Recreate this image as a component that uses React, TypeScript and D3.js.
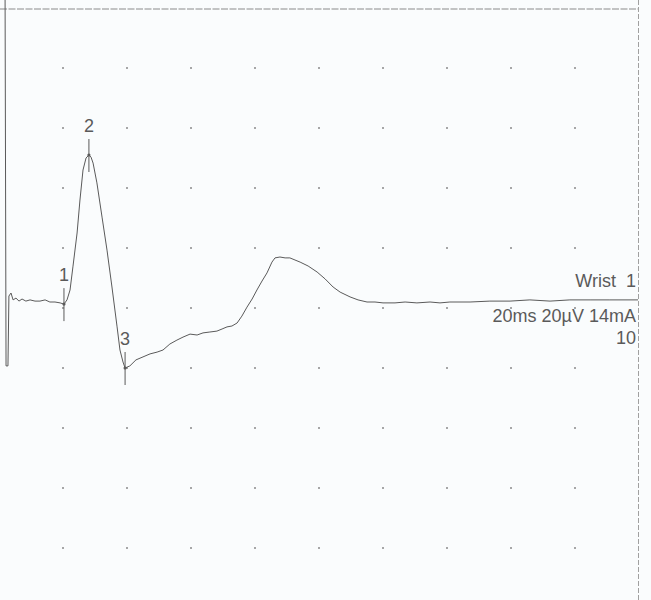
import React from "react";
import * as d3 from "d3";

// Time (ms) and amplitude (µV) of the recorded trace
const traceTime = [1.9, 2.2, 2.8, 3.1, 3.75, 4.4, 5.3, 6.25, 7.2, 8.4, 9.7, 11.25, 12.8, 14.4, 15.9, 17.5, 19.1, 20.3, 21.25, 22.2, 23.1, 24.4, 25.3, 26.25, 27.2, 28.1, 28.75, 29.4, 30.6, 32.2, 33.75, 35.3, 36.9, 37.8, 38.75, 39.4, 40.9, 42.8, 45.0, 47.2, 49.4, 51.25, 53.4, 55.6, 57.5, 59.7, 61.9, 63.75, 65.9, 68.1, 69.7, 71.25, 72.8, 74.4, 75.9, 77.5, 79.1, 80.6, 82.2, 83.75, 85.3, 86.25, 87.8, 89.4, 90.9, 92.5, 94.1, 96.6, 99.4, 101.9, 104.4, 106.6, 109.7, 112.2, 115.0, 117.5, 120.0, 123.75, 126.9, 130.6, 134.7, 137.8, 140.9, 147.2, 153.4, 159.7, 165.9, 172.2, 178.4, 184.7, 190.9, 199.7];
const traceAmp = [101, -21.3, -21.3, 2.0, 3.0, 0.7, 1.3, 0.3, 1.0, 0.3, 0.7, 0.3, 0.3, 0.7, 0, 0, -0.3, -0.7, 0.7, 4.0, 11.7, 23.0, 34.0, 44.0, 48.0, 49.0, 48.3, 46.3, 39.7, 28.3, 17.3, 5.0, -8.3, -16.0, -20.0, -22.0, -21.3, -19.3, -18.3, -17.3, -16.7, -16.0, -14.0, -12.7, -11.7, -10.7, -11.0, -10.3, -10.0, -9.7, -9.0, -8.3, -8.0, -7.0, -4.7, -1.7, 1.0, 4.0, 7.0, 9.7, 13.3, 14.7, 15.0, 14.7, 14.7, 14.0, 13.3, 12.0, 10.0, 7.7, 5.0, 3.3, 1.7, 0.7, 0, 0, -0.3, -0.3, 0, -0.3, 0, -0.3, 0, 0, 0.3, 0.3, 0.7, 0.3, 0.7, 0.7, 0.7, 0.7];

const markerLabels = ["1", "2", "3"];
const markerTime = [20.3, 28.1, 39.4];
const markerAmp = [-0.7, 49.0, -22.0];

const infoLines = ["Wrist  1", "20ms 20µV 14mA", "10"];

const gridCols = d3.range(1, 10); // division index
const gridRows = d3.range(1, 10);

export default function App() {
  const W = 651;
  const H = 600;
  const x = d3.scaleLinear().domain([0, 200]).range([-1, 639]);
  const y = d3.scaleLinear().domain([-102, 98]).range([608, 8]);
  const pts = traceTime.map((t, i) => [t, traceAmp[i]] as [number, number]);
  const line = d3
    .line<[number, number]>()
    .x((d) => x(d[0]))
    .y((d) => y(d[1]));
  const divX = (i: number) => x(i * 20);
  const divY = (j: number) => y(98 - j * 20);
  const font = "'Liberation Sans', Arial, sans-serif";
  const ink = "#5a5a5a";
  return (
    <svg
      width={W}
      height={H}
      style={{ position: "fixed", left: 0, top: 0, background: "#fafcfd" }}
    >
      <rect x={0} y={0} width={W} height={H} fill="#fafcfd" />
      {/* frame */}
      <line x1={0} x2={638} y1={9} y2={9} stroke="#8a8a8a" strokeWidth={1} strokeDasharray="7,1.5" />
      <line x1={638.5} x2={638.5} y1={0} y2={600} stroke="#a0a0a0" strokeWidth={1} strokeDasharray="5,2" />
      {/* grid dots */}
      {gridCols.map((i) =>
        gridRows.map((j) => (
          <circle key={`${i}-${j}`} cx={divX(i)} cy={divY(j)} r={1} fill="#8a8a8a" />
        ))
      )}
      {/* trace */}
      <path d={line(pts) || ""} fill="none" stroke="#5a5a5a" strokeWidth={1} strokeLinejoin="round" />
      {/* markers */}
      {markerLabels.map((lab, i) => {
        const mx = x(markerTime[i]);
        const my = y(markerAmp[i]);
        return (
          <g key={lab}>
            <line x1={mx} x2={mx} y1={my - 16} y2={my + 17} stroke={ink} strokeWidth={1} />
            <circle cx={mx} cy={my} r={1.6} fill={ink} />
            <text x={mx} y={my - 23} textAnchor="middle" fontFamily={font} fontSize={18} fill={ink}>
              {lab}
            </text>
          </g>
        );
      })}
      {/* info text */}
      {infoLines.map((s, i) => (
        <text
          key={i}
          x={636}
          y={287 + i * 35 - (i === 2 ? 13 : 0)}
          textAnchor="end"
          fontFamily={font}
          fontSize={18}
          fill={ink}
          style={{ whiteSpace: "pre" }}
        >
          {s}
        </text>
      ))}
    </svg>
  );
}
